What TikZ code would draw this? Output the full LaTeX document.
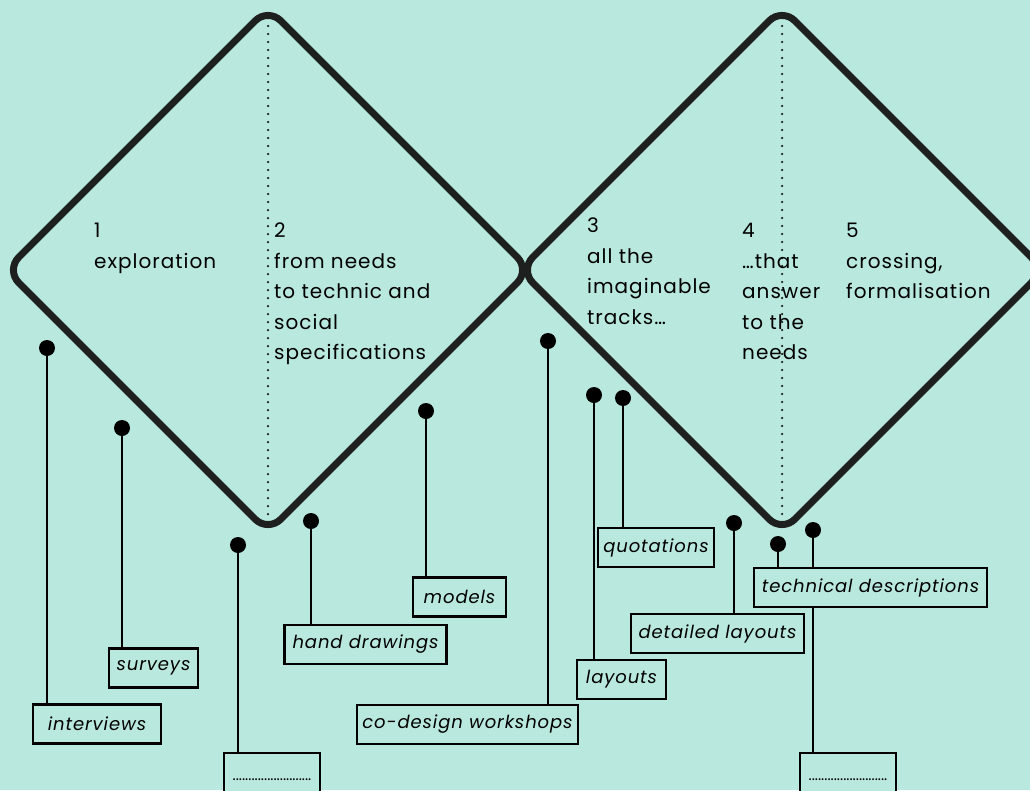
\documentclass[tikz,border=0pt]{standalone}
\usepackage{fontspec}
\setmainfont{Poppins}
\usetikzlibrary{positioning}
\definecolor{mint}{RGB}{185,233,222}
\definecolor{ink}{RGB}{30,32,31}

\begin{document}
\begin{tikzpicture}[x=1pt, y=-1pt,
		knob/.style={circle, fill=black, inner sep=0pt, minimum size=16pt},
		toolbox/.style={draw=black, line width=2.5pt, fill=mint, inner sep=0pt, minimum height=39pt, font=\fontsize{18}{20}\selectfont\itshape\addfontfeature{LetterSpace=5}},
		blankbox/.style={draw=black, line width=2.5pt, fill=mint, inner sep=0pt, minimum width=96pt, minimum height=54pt, font=\fontsize{15}{16}\selectfont},
		phase/.style={align=left, anchor=north west, inner sep=0pt, font=\fontsize{20}{30.5}\selectfont\addfontfeature{LetterSpace=5}},
		stem/.style={line width=2pt},
		rhomb/.style={ink, line width=7pt, rounded corners=18pt}]
			\fill [color=mint] (0,0) rectangle (1030,790);
			\useasboundingbox (0,0) rectangle (1030,790);
			\draw [rhomb] (268,8) -- (530,270) -- (268,532) -- (6,270) -- cycle;
			\draw [rhomb] (782,8) -- (1044,270) -- (782,532) -- (520,270) -- cycle;
			\draw [ink, line width=2.5pt, line cap=round, dash pattern=on 0pt off 8pt] (268,18) -- (268,522);
			\draw [ink, line width=2.5pt, line cap=round, dash pattern=on 0pt off 8pt] (782,18) -- (782,522);
			\node [phase] (p1) at (94,223) {1\\exploration};
			\node [phase] (p2) at (274,223) {2\\from needs\\to technic and\\social\\specifications};
			\node [phase] (p3) at (587,218) {3\\all the\\imaginable\\tracks…};
			\node [phase] (p4) at (742,223) {4\\…that\\answer\\to the\\needs};
			\node [phase] (p5) at (846,223) {5\\crossing,\\formalisation};
			\node [toolbox, minimum width=128pt] (interviews) at (97,724) {interviews};
			\node [toolbox, minimum width=89pt] (surveys) at (153.5,668) {surveys};
			\node [blankbox] (blankA) at (272,780) {.........................};
			\node [toolbox, minimum width=162pt] (hand) at (365.5,644.5) {hand drawings};
			\node [toolbox, minimum width=93pt] (models) at (459.5,597) {models};
			\node [toolbox, minimum width=221pt] (codesign) at (467.5,724.5) {co-design workshops};
			\node [toolbox, minimum width=89pt] (layouts) at (621.5,679.5) {layouts};
			\node [toolbox, minimum width=116pt] (quotations) at (656,547.5) {quotations};
			\node [toolbox, minimum width=173pt] (detailed) at (717.5,633.5) {detailed layouts};
			\node [toolbox, minimum width=233pt] (technical) at (870.5,587.5) {technical descriptions};
			\node [blankbox] (blankB) at (848,780) {.........................};
			\node [knob] (k-int) at (47,348) {};
			\node [knob] (k-sur) at (122,428) {};
			\node [knob] (k-blankA) at (238,545) {};
			\node [knob] (k-hand) at (311,521) {};
			\node [knob] (k-mod) at (426,411) {};
			\node [knob] (k-co) at (548,341) {};
			\node [knob] (k-lay) at (594,395) {};
			\node [knob] (k-quo) at (623,398) {};
			\node [knob] (k-det) at (734,523) {};
			\node [knob] (k-tech) at (778,544) {};
			\node [knob] (k-blankB) at (813,530) {};
			\draw [stem] (k-int) -- (k-int |- interviews.north);
			\draw [stem] (k-sur) -- (k-sur |- surveys.north);
			\draw [stem] (k-blankA) -- (k-blankA |- blankA.north);
			\draw [stem] (k-hand) -- (k-hand |- hand.north);
			\draw [stem] (k-mod) -- (k-mod |- models.north);
			\draw [stem] (k-co) -- (k-co |- codesign.north);
			\draw [stem] (k-lay) -- (k-lay |- layouts.north);
			\draw [stem] (k-quo) -- (k-quo |- quotations.north);
			\draw [stem] (k-det) -- (k-det |- detailed.north);
			\draw [stem] (k-tech) -- (k-tech |- technical.north);
			\draw [stem] (k-blankB) -- (k-blankB |- technical.north);
			\draw [stem] (k-blankB |- technical.south) -- (k-blankB |- blankB.north);
		\end{tikzpicture}
\end{document}
